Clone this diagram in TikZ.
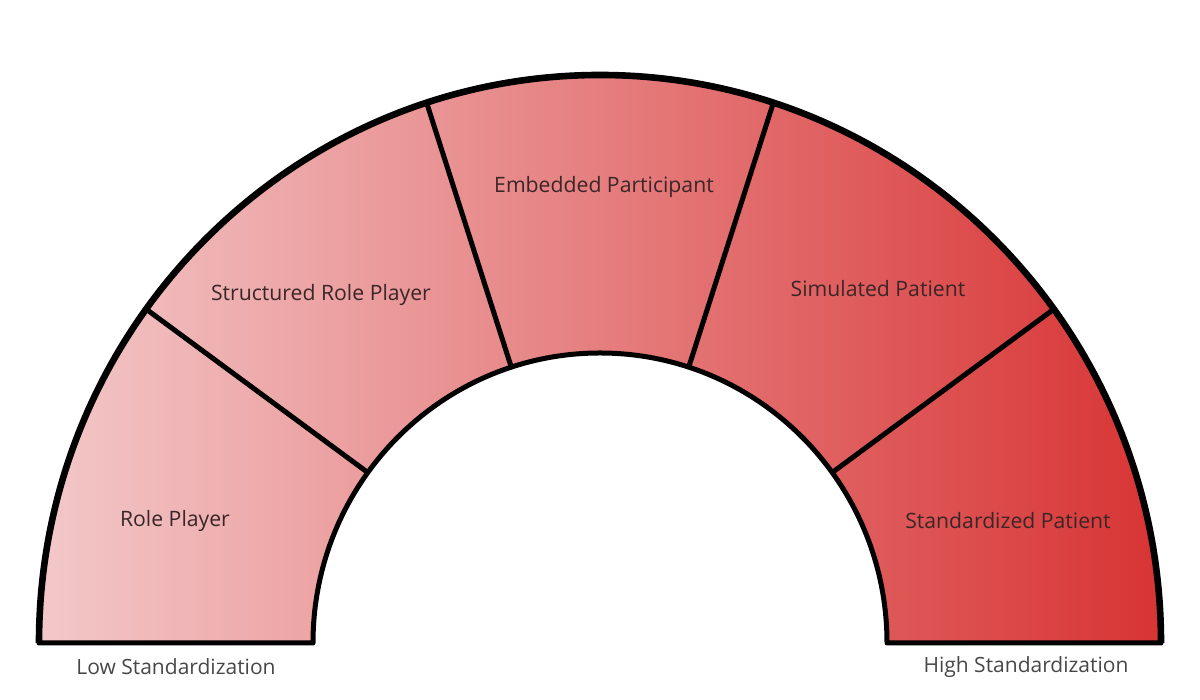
\documentclass[tikz,border=0pt]{standalone}
\usepackage{fontspec}
\setmainfont{Open Sans}
\begin{document}
\begin{tikzpicture}[x=0.5pt,y=0.5pt,
  seglabel/.style={font=\fontsize{10.6}{12}\selectfont, text=segtext},
  endlabel/.style={font=\fontsize{10.5}{12}\selectfont, text=black!72},
  divider/.style={line width=2.5pt}]
\definecolor{lowpink}{RGB}{243,200,201}
\definecolor{highred}{RGB}{216,52,52}
\definecolor{segtext}{RGB}{58,38,40}
\useasboundingbox (0,0) rectangle (1200,700);
% annulus
\shade[left color=lowpink,right color=highred]
  (39,57) arc[start angle=180,end angle=0,x radius=561,y radius=568]
  -- (887,57) arc[start angle=0,end angle=180,x radius=287,y radius=290] -- cycle;
\draw[line width=2.5pt,line join=round]
  (887,57) arc[start angle=0,end angle=180,x radius=287,y radius=290]
  -- (39,57) arc[start angle=180,end angle=0,x radius=561,y radius=568] -- cycle;
\draw[line width=3.3pt] (39,57) arc[start angle=180,end angle=0,x radius=561,y radius=568];
% dividers
\foreach \a in {36,72,108,144}
  \draw[divider] ({600+287*cos(\a)},{57+290*sin(\a)}) -- ({600+561*cos(\a)},{57+568*sin(\a)});
% labels
\node[seglabel] (rp) at (175,179) {Role Player};
\node[seglabel] (srp) at (321,405) {Structured Role Player};
\node[seglabel] (ep) at (604,513) {Embedded Participant};
\node[seglabel] (simp) at (878,411) {Simulated Patient};
\node[seglabel] (stdp) at (1008,179) {Standardized Patient};
\node[endlabel] (low) at (176,33) {Low Standardization};
\node[endlabel] (high) at (1026,33) {High Standardization};
\end{tikzpicture}
\end{document}
